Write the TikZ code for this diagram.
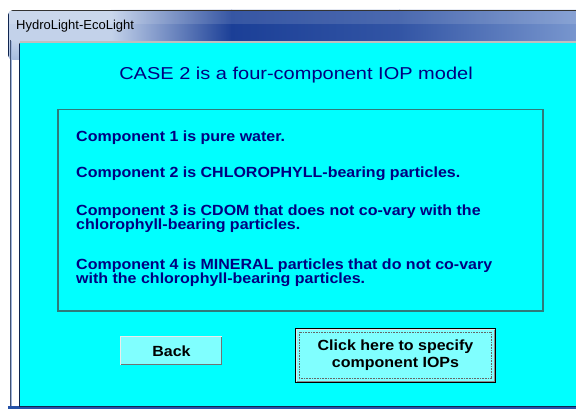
\documentclass[tikz,border=0pt]{standalone}
\usepackage{fontspec}
\setmainfont{Liberation Sans}
\usetikzlibrary{calc}
\definecolor{bgcyan}{HTML}{00FFFF}
\definecolor{btncyan}{HTML}{80FFFF}
\definecolor{navytext}{HTML}{000080}
\definecolor{boxline}{HTML}{2E7B7B}
\definecolor{tbpale}{HTML}{C3D2EA}
\definecolor{tbdark}{HTML}{1B3F97}
\definecolor{tbright}{HTML}{7896CE}
\definecolor{frameblue}{HTML}{2552A8}
\definecolor{framedark}{HTML}{0F2550}
\newcommand{\vsqz}[2][0.92]{\scalebox{1}[#1]{#2}}
\begin{document}
\begin{tikzpicture}[x=1pt,y=-1pt,
  bodytext/.style={anchor=base west, inner sep=0pt, text=navytext,
    font=\fontsize{16}{16}\selectfont\bfseries},
  btnlabel/.style={text=black, align=center,
    font=\fontsize{16}{16.7}\selectfont\bfseries},
  backbtn/.style={btnlabel, fill=btncyan, inner sep=0pt,
    minimum width=101pt, minimum height=28pt},
  specbtn/.style={btnlabel, fill=btncyan, draw=black, line width=1.5pt,
    inner sep=0pt, minimum width=200pt, minimum height=54pt}]
\useasboundingbox (0,0) rectangle (576,409);
\fill[white] (0,0) rectangle (576,409);
% title bar
\begin{scope}
  \clip[rounded corners=5pt] (8,60) -- (8,10) -- (600,10) -- (600,60) -- cycle;
  \fill[tbpale] (8,10) rectangle (112,41);
  \shade[left color=tbpale, right color=tbdark] (111,10) rectangle (232,41);
  \shade[left color=tbdark, right color=tbdark!75!tbright] (231,10) rectangle (400,41);
  \shade[left color=tbdark!75!tbright, right color=tbright] (399,10) rectangle (576,41);
  \fill[white, opacity=0.12] (8,10) rectangle (576,24);
  \draw[black!80, line width=0.8pt] (8,10.4) -- (576,10.4);
  % left frame
  \shade[top color=tbpale, bottom color=frameblue] (8,41) rectangle (20,150);
  \fill[frameblue] (8,149.5) rectangle (20,409);
  \draw[framedark, line width=0.8pt] (8.4,10) -- (8.4,409);
\end{scope}
\draw[framedark!80, line width=1pt] (10,40) -- (10,409);
\draw[white!55!frameblue, line width=0.8pt] (11.6,41) -- (11.6,409);
\draw[framedark, line width=1pt] (19.5,43) -- (19.5,406.5);
% separator under title bar
\fill[black!25] (20,41) rectangle (576,43.5);
\draw[black!55, line width=0.6pt] (19,43.2) -- (576,43.2);
% client area
\fill[bgcyan] (20,43.5) rectangle (576,406);
% bottom frame
\fill[frameblue] (8,406) rectangle (576,409);
\draw[framedark, line width=0.8pt] (19,406.4) -- (576,406.4);
% window title
\node[anchor=base west, inner sep=0pt, text=black,
  font=\fontsize{13}{13}\selectfont] (wtitle) at (16,29.5) {HydroLight-EcoLight};
% heading
\node[anchor=base, inner sep=0pt, text=navytext,
  font=\fontsize{20}{20}\selectfont] (heading) at (296,79.5)
  {\vsqz[0.86]{CASE 2 is a four-component IOP model}};
% text box
\node[draw=boxline, line width=1.5pt, inner sep=0pt, minimum width=485pt,
  minimum height=201pt, anchor=north west] (box) at (57,109) {};
\node[bodytext] (c1) at (76,142) {\vsqz{Component 1 is pure water.}};
\node[bodytext] (c2) at (76,178) {\vsqz{Component 2 is CHLOROPHYLL-bearing particles.}};
\node[bodytext] (c3a) at (76,215) {\vsqz{Component 3 is CDOM that does not co-vary with the}};
\node[bodytext] (c3b) at (76,229.5) {\vsqz{chlorophyll-bearing particles.}};
\node[bodytext] (c4a) at (76,269.5) {\vsqz{Component 4 is MINERAL particles that do not co-vary}};
\node[bodytext] (c4b) at (76,283.5) {\vsqz{with the chlorophyll-bearing particles.}};
% Back button
\node[backbtn] (back) at (171.5,351) {\vsqz{Back}};
\draw[white!85!gray, line width=1pt] (back.south west) |- (back.north east);
\draw[black!55, line width=1.6pt] ($(back.north east)+(-0.8,0)$) |- ($(back.south west)+(0,-0.8)$);
% specify button
\node[specbtn] (spec) at (395.5,355.5) {\vsqz{Click here to specify}\\\vsqz{component IOPs}};
\draw[white!80!gray, line width=1pt] ($(spec.south west)+(1.8,-2)$) |- ($(spec.north east)+(-2,1.8)$);
\draw[black!45, line width=1.2pt] ($(spec.north east)+(-1.8,2)$) |- ($(spec.south west)+(2,-1.8)$);
\draw[black!60, densely dotted, line width=0.6pt]
  ($(spec.north west)+(4.5,4.5)$) rectangle ($(spec.south east)+(-4.5,-4.5)$);
\end{tikzpicture}
\end{document}
